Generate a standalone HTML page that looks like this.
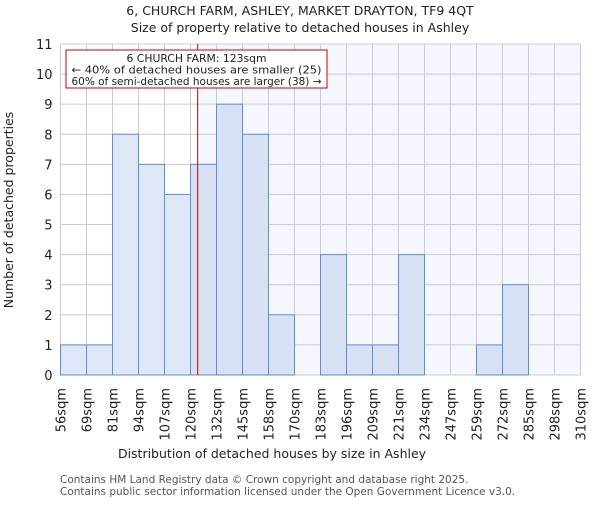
<!DOCTYPE html>
<html><head><meta charset="utf-8"><style>
body{margin:0;background:#fff;}
svg text{font-family:"DejaVu Sans","Liberation Sans",sans-serif;fill:#222;}
</style></head><body>
<svg width="600" height="500" xmlns="http://www.w3.org/2000/svg">
<text x="300" y="15" font-size="12.5" text-anchor="middle">6, CHURCH FARM, ASHLEY, MARKET DRAYTON, TF9 4QT</text>
<text x="300" y="32" font-size="12.5" text-anchor="middle">Size of property relative to detached houses in Ashley</text>
<g id="plot"></g>
<text x="272" y="458" font-size="12.5" text-anchor="middle">Distribution of detached houses by size in Ashley</text>
<text transform="translate(13,210) rotate(-90)" font-size="12.5" text-anchor="middle">Number of detached properties</text>
<text x="60" y="483" font-size="10.5" style="fill:#555">Contains HM Land Registry data © Crown copyright and database right 2025.</text>
<text x="60" y="495" font-size="10.5" style="fill:#555">Contains public sector information licensed under the Open Government Licence v3.0.</text>
</svg>
<script>
const binLabels=["56sqm","69sqm","81sqm","94sqm","107sqm","120sqm","132sqm","145sqm","158sqm","170sqm","183sqm","196sqm","209sqm","221sqm","234sqm","247sqm","259sqm","272sqm","285sqm","298sqm","310sqm"];
const counts=[1,1,8,7,6,7,9,8,2,0,4,1,1,4,0,0,1,3,0,0];
const yTicks=[0,1,2,3,4,5,6,7,8,9,10,11];
const markerValue=123;
const binStart=56, binWidth=12.7;
const NS="http://www.w3.org/2000/svg";
const g=document.getElementById('plot');
const X0=60.5,BW=26,Y0=375,Y1=44,YMAX=11;
const nb=counts.length;
const xBin=i=>X0+i*BW;
const xVal=v=>X0+(v-binStart)/binWidth*BW;
const y=v=>Y0-(v/YMAX)*(Y0-Y1);
function mk(t,a){const e=document.createElementNS(NS,t);for(const k in a)e.setAttribute(k,a[k]);g.appendChild(e);return e;}
const mx=xVal(markerValue);
let e=mk('rect',{x:mx,y:Y1,width:xBin(nb)-mx,height:Y0-Y1,fill:'#f5f7fe'});


yTicks.forEach(t=>{
 let l=mk('line',{x1:X0,x2:xBin(nb),y1:y(t),y2:y(t),stroke:'#ccc','stroke-width':1});
 
 
 let tx=mk('text',{x:X0-8,y:y(t)+5,'font-size':13,'text-anchor':'end'});
 tx.textContent=t;
 
 
});
binLabels.forEach((s,i)=>{
 let l=mk('line',{x1:xBin(i),x2:xBin(i),y1:Y1,y2:Y0,stroke:'#ccc','stroke-width':1});
 
 
 let tx=mk('text',{transform:`translate(${xBin(i)+5},388) rotate(-90)`,'font-size':13,'text-anchor':'end'});
 tx.textContent=s;
 
 
});
counts.forEach((c,i)=>{
 if(c<=0)return;
 const left=xBin(i)+BW<=mx+1;
 let r=mk('rect',{x:xBin(i),y:y(c),width:BW,height:Y0-y(c),fill:left?'#dde7f5':'#d6e1f4',stroke:'#5b8fd6','stroke-width':1});
 
 
});
let ml=mk('line',{x1:mx,x2:mx,y1:Y1,y2:Y0,stroke:'#c00','stroke-width':1});


let box=mk('rect',{x:66,y:50,width:261,height:38,fill:'#fff',stroke:'#c00','stroke-width':1});


[["6 CHURCH FARM: 123sqm",62],["← 40% of detached houses are smaller (25)",73.5],["60% of semi-detached houses are larger (38) →",85]].forEach(([s,yy])=>{
 let t=mk('text',{x:196.5,y:yy,'font-size':10.8,'text-anchor':'middle','textLength':s.length>30?250:0,'lengthAdjust':'spacingAndGlyphs'});
 if(s.length<=30)t.removeAttribute('textLength');
 t.textContent=s;
 
 
});
</script>
</body></html>
